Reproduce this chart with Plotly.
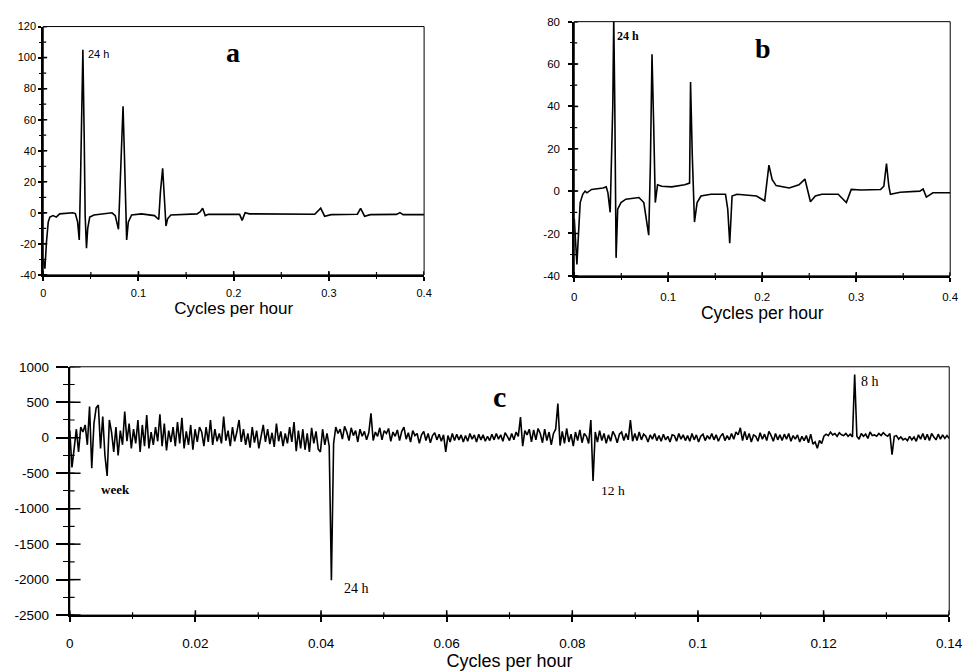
import numpy as np
import plotly.graph_objects as go

# ---------------- Panel a data ----------------
A_FREQ = [0, 0.0017, 0.0034, 0.0052, 0.0069, 0.0103, 0.0137, 0.0172, 0.031, 0.0337,
          0.0361, 0.0378, 0.0392, 0.0416, 0.043, 0.044, 0.0454, 0.0467, 0.0488, 0.0533,
          0.0722, 0.0756, 0.079, 0.0811, 0.0838, 0.0852, 0.0866, 0.0876, 0.0893, 0.0928,
          0.1031, 0.1168, 0.1213, 0.123, 0.1254, 0.1271, 0.1289, 0.1306, 0.134, 0.1615,
          0.165, 0.1674, 0.1701, 0.1735, 0.2062, 0.2089, 0.212, 0.2165, 0.2852, 0.2914,
          0.2955, 0.3024, 0.3299, 0.3333, 0.3375, 0.3436, 0.3711, 0.3746, 0.378, 0.4]
A_VAL = [-30, -36, -18.6, -6, -2.8, -1.8, -2.8, -0.7, 0, -0.5,
         -6, -17.5, 23, 105, 48.6, -1.8, -22.8, -10, -2.8, -1.4,
         0, -1.8, -10.6, 23.4, 68.6, 38, -1, -17.5, -6, -1.4,
         -0.7, -1.8, -4.3, 13, 28.7, 6.6, -8.5, -3.9, -1.4, -0.7,
         0.7, 3, -1.8, -1, -1, -4.9, 0, -0.7, -0.9, 3,
         -2.2, -1.2, -0.9, 2.8, -2.2, -1.2, -1, 0.1, -1.2, -1.2]

# ---------------- Panel b data ----------------
B_FREQ = [0, 0.0028, 0.0045, 0.0063, 0.009, 0.0115, 0.0135, 0.0156, 0.0184, 0.0306,
          0.034, 0.0358, 0.0382, 0.041, 0.042, 0.0431, 0.0445, 0.0462, 0.0497, 0.0549,
          0.0688, 0.074, 0.0792, 0.081, 0.0827, 0.0844, 0.0862, 0.0886, 0.0931, 0.1036,
          0.1175, 0.1227, 0.1237, 0.1255, 0.1279, 0.1307, 0.1348, 0.1453, 0.1609, 0.1633,
          0.1654, 0.1679, 0.1731, 0.1939, 0.2026, 0.2071, 0.2106, 0.2148, 0.2287, 0.2391,
          0.2454, 0.2513, 0.2565, 0.2634, 0.2808, 0.2895, 0.2947, 0.3051, 0.326, 0.3294,
          0.3322, 0.3347, 0.3364, 0.3468, 0.3677, 0.3712, 0.3746, 0.3816, 0.4]
B_VAL = [-13, -34.6, -20, -5.4, -1.5, 0, -0.8, 0, 0.8, 1.5,
         2, -0.8, -10, 40.8, 82, 40.8, -31.5, -8.5, -5.4, -3.8,
         -3, -5.4, -20.8, 13, 64.6, 33, -5.4, 3, 2.3, 2,
         3, 3.8, 51.5, 17.7, -14.6, -5.4, -2.3, -1.5, -1.5, -8.5,
         -24.6, -2.3, -1.5, -2.3, -4.6, 12.3, 5.4, 2.6, 1.5, 3,
         5.7, -5, -2.3, -1.5, -1.5, -5.4, 0.8, 0.5, 0.8, 2.3,
         13, 2.3, -1.5, -0.5, 0, 1, -2.8, -0.8, -0.8]

# ---------------- Panel c data (frequency step 0.00035 c/h) ----------------
C_STEP = 0.00035
C_VAL = [
    100, -420, -150, 120, -200, 150, 80, 180, -100, 440, -430, 200, 420, 460, -150, 300, -250, -540, 250, 80,
    -200, 150, -250, 100, -100, 370, -50, 200, -150, 120, -80, 250, -200, 180, -120, 320, -150, 80, -100, 150,
    -50, 330, -120, 200, -180, 100, -60, 150, -120, 220, -80, 280, -150, 90, -100, 180, -170, 120, -60, 150,
    80, -120, 150, -60, 250, -100, 120, -50, 60, -80, 297, -40, 100, -120, 150, -50, 80, 250, -60, 120,
    -100, 60, -140, 150, -70, 100, -150, 40, 180, -60, 120, -90, 70, -130, 200, -50, 90, -120, 60, -80,
    150, -60, 220, -190, 100, -150, 120, -170, 60, -200, 140, -80, 90, -160, -200, 120, -100, 60, -120, -2010,
    -80, 150, 60, 120, -20, 160, 80, -40, 140, 30, 100, -60, 120, 20, 90, -30, 70, 343, -40, 80,
    20, 140, -30, 100, 60, 130, -50, 80, 20, 110, -40, 90, 150, -20, 70, -60, 100, 30, 60, -80,
    40, 90, -40, 60, -70, 30, 70, -30, 50, -50, 40, -200, 30, -60, 60, -40, 50, -30, 40, -60,
    30, -50, 60, -20, 40, -60, 50, -30, 40, -50, 20, -40, 50, -30, 60, -20, 40, -50, 70, 20,
    -40, 60, -30, 80, 20, 290, -120, 100, 40, 120, -60, 110, -30, 130, 60, -70, 120, -40, 80, -100,
    60, 120, 480, -110, 90, -80, 130, -60, 50, -120, 80, -40, 110, -70, 60, 20, -80, 250, -610, 80,
    -60, 100, -40, 60, -80, 40, -50, 90, 30, -70, 50, 80, -40, 60, -30, 250, -50, 60, -40, 80,
    -30, 50, 20, -60, 40, -20, 60, -40, 30, -50, 50, -30, 20, -60, 40, 30, -50, 60, -20, 40,
    -40, 30, -50, 60, -30, 40, -60, 20, 50, -40, 30, -20, 60, -30, 40, -50, 20, 60, -40, 30,
    -30, 60, -20, 80, 40, 140, -40, 90, -30, 60, -60, 40, 20, -50, 70, -20, 50, -40, 90, 30,
    -50, 60, -30, 40, -40, 50, -20, 60, -50, 30, -20, 40, -60, 20, -40, 30, -70, 50, -90, -60,
    -150, -40, -80, 20, 50, 30, 80, 40, 60, 20, 70, 40, 30, 60, 20, 50, 10, 890, 20, -20,
    60, 20, 50, -10, 80, 30, 40, 20, 60, 30, 70, 40, 20, 60, -240, 20, 30, -20, 10, -30,
    -10, -40, 20, -30, 10, -50, 40, -20, 60, -30, 50, -40, 60, 10, -30, 50, -20, 40, -10, 30, -10,
]
C_FREQ = [i * C_STEP for i in range(len(C_VAL))]

# ---------------- Tick labels ----------------
A_XTICKS = [0, 0.1, 0.2, 0.3, 0.4]
A_XLABELS = ["0", "0.1", "0.2", "0.3", "0.4"]
A_YTICKS = [-40, -20, 0, 20, 40, 60, 80, 100, 120]
A_YLABELS = ["-40", "-20", "0", "20", "40", "60", "80", "100", "120"]
B_XTICKS = A_XTICKS
B_XLABELS = A_XLABELS
B_YTICKS = [-40, -20, 0, 20, 40, 60, 80]
B_YLABELS = ["-40", "-20", "0", "20", "40", "60", "80"]
C_XTICKS = [0, 0.02, 0.04, 0.06, 0.08, 0.1, 0.12, 0.14]
C_XLABELS = ["0", "0.02", "0.04", "0.06", "0.08", "0.1", "0.12", "0.14"]
C_YTICKS = [-2500, -2000, -1500, -1000, -500, 0, 500, 1000]
C_YLABELS = ["-2500", "-2000", "-1500", "-1000", "-500", "0", "500", "1000"]

SANS = "Liberation Sans, Arial, sans-serif"
SERIF = "Liberation Serif, Times New Roman, serif"
W, H = 975, 671

fig = go.Figure()
fig.add_trace(go.Scatter(x=A_FREQ, y=A_VAL, mode="lines", line=dict(color="black", width=1.6),
                         xaxis="x", yaxis="y", showlegend=False, hoverinfo="skip"))
fig.add_trace(go.Scatter(x=B_FREQ, y=B_VAL, mode="lines", line=dict(color="black", width=1.6),
                         xaxis="x2", yaxis="y2", showlegend=False, hoverinfo="skip"))
fig.add_trace(go.Scatter(x=C_FREQ, y=C_VAL, mode="lines", line=dict(color="black", width=1.6),
                         xaxis="x3", yaxis="y3", showlegend=False, hoverinfo="skip"))


def minor_vals(r, step):
    n = int(round((r[1] - r[0]) / step))
    return [r[0] + i * step for i in range(n + 1)]


def set_panel(idx, dx, dy, xr, yr, xt, xl, yt, yl, xmin, ymin, fsize, tsize,
              xlen, ylen, xminlen, yminlen, xstand, ystand, tstand):
    sx = "" if idx == 1 else str(idx)
    tickfont = dict(family=SANS, size=fsize, color="black")
    common = dict(showgrid=False, zeroline=False, tickcolor="black", tickwidth=1.5)
    xa = dict(domain=dx, range=xr, anchor="y" + sx, tickmode="array", tickvals=xt, ticktext=xl,
              ticks="outside", ticklen=xlen[0], showline=True, linewidth=2, linecolor="black",
              tickfont=tickfont, ticklabelstandoff=xstand,
              minor=dict(tickmode="array", tickvals=minor_vals(xr, xmin), ticks="outside",
                         ticklen=xminlen[0], tickcolor="black", tickwidth=1.2),
              title=dict(text="Cycles per hour", font=dict(family=SANS, size=tsize, color="black"),
                         standoff=tstand), **common)
    ya = dict(domain=dy, range=yr, anchor="x" + sx, tickmode="array", tickvals=yt, ticktext=yl,
              ticks="outside", ticklen=ylen[0], showline=True, linewidth=2, linecolor="black",
              tickfont=tickfont, ticklabelstandoff=ystand,
              minor=dict(tickmode="array", tickvals=minor_vals(yr, ymin), ticks="outside",
                         ticklen=yminlen[0], tickcolor="black", tickwidth=1.2),
              **common)
    fig.layout["xaxis" + sx] = xa
    fig.layout["yaxis" + sx] = ya
    # thin frame on top / right
    fig.add_shape(type="rect", xref=f"x{sx} domain", yref=f"y{sx} domain", x0=0, x1=1, y0=0, y1=1,
                  line=dict(color="black", width=1), layer="above")
    # inside halves of the crossing ticks (lengths in px converted to domain fractions)
    wpx = (dx[1] - dx[0]) * W
    hpx = (dy[1] - dy[0]) * H
    for vals, L, wdt in ((xt, xlen[1], 1.5), (minor_vals(xr, xmin), xminlen[1], 1.2)):
        for v in vals:
            fig.add_shape(type="line", xref="x" + sx, yref=f"y{sx} domain", x0=v, x1=v,
                          y0=0, y1=L / hpx, line=dict(color="black", width=wdt), layer="above")
    for vals, L, wdt in ((yt, ylen[1], 1.5), (minor_vals(yr, ymin), yminlen[1], 1.2)):
        for v in vals:
            fig.add_shape(type="line", xref=f"x{sx} domain", yref="y" + sx, x0=0, x1=L / wpx,
                          y0=v, y1=v, line=dict(color="black", width=wdt), layer="above")


set_panel(1, [0.04103, 0.43897], [0.59165, 0.97019], [0, 0.4], [-40, 120],
          A_XTICKS, A_XLABELS, A_YTICKS, A_YLABELS, 0.05, 10, 11, 17,
          (4, 4), (3, 4), (2, 3), (2, 3), 3, 0, 1)
set_panel(2, [0.59590, 0.98872], [0.59016, 0.97765], [0, 0.4], [-40, 80],
          B_XTICKS, B_XLABELS, B_YTICKS, B_YLABELS, 0.05, 10, 11.5, 17.5,
          (4, 4), (4, 4), (2, 3), (2, 3), 5, 6, 1)
set_panel(3, [0.06872, 0.98769], [0.07303, 0.45157], [0, 0.14], [-2500, 1000],
          C_XTICKS, C_XLABELS, C_YTICKS, C_YLABELS, 0.01, 250, 13.5, 18,
          (5, 5), (12, 11), (2, 3), (5, 5), 10, 4, 3)

ann = [
    dict(x=0.199, y=103, xref="x", yref="y", text="a", xanchor="center", yanchor="middle",
         font=dict(family=SERIF, size=28, color="black", weight="bold")),
    dict(x=0.0454, y=102, xref="x", yref="y", text="24 h", xanchor="left", yanchor="middle",
         font=dict(family=SANS, size=11, color="black")),
    dict(x=0.2005, y=67.5, xref="x2", yref="y2", text="b", xanchor="center", yanchor="middle",
         font=dict(family=SERIF, size=28, color="black", weight="bold")),
    dict(x=0.0436, y=73.4, xref="x2", yref="y2", text="24 h", xanchor="left", yanchor="middle",
         font=dict(family=SERIF, size=12, color="black", weight="bold")),
    dict(x=0.0684, y=583, xref="x3", yref="y3", text="c", xanchor="center", yanchor="middle",
         font=dict(family=SERIF, size=30, color="black", weight="bold")),
    dict(x=0.00464, y=-736, xref="x3", yref="y3", text="week", xanchor="left", yanchor="middle",
         font=dict(family=SERIF, size=13, color="black", weight="bold")),
    dict(x=0.0433, y=-2128, xref="x3", yref="y3", text="24 h", xanchor="left", yanchor="middle",
         font=dict(family=SERIF, size=14, color="black")),
    dict(x=0.0842, y=-750, xref="x3", yref="y3", text="12 h", xanchor="left", yanchor="middle",
         font=dict(family=SERIF, size=13.5, color="black")),
    dict(x=0.1256, y=798, xref="x3", yref="y3", text="8 h", xanchor="left", yanchor="middle",
         font=dict(family=SERIF, size=14, color="black")),
]
for a in ann:
    fig.add_annotation(showarrow=False, **a)

fig.update_layout(width=W, height=H, margin=dict(l=0, r=0, t=0, b=0),
                  paper_bgcolor="white", plot_bgcolor="white", showlegend=False)

fig.write_html("out.html")
